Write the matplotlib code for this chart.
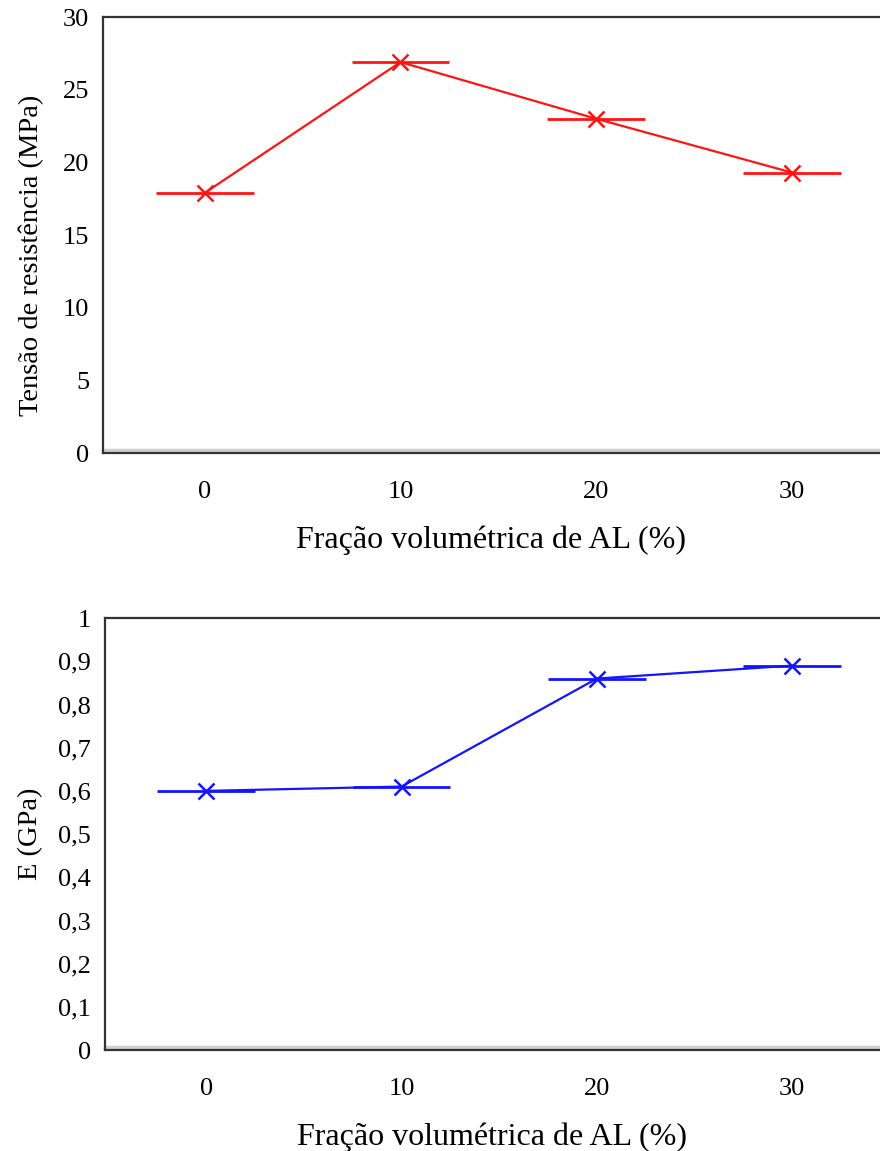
import matplotlib.pyplot as plt
import matplotlib.transforms as mtransforms

plt.rcParams['font.family'] = ['Liberation Serif', 'DejaVu Serif']

fracao = [0, 10, 20, 30]
tensao = [17.9, 26.9, 23.0, 19.3]
modulo = [0.60, 0.61, 0.86, 0.89]
xerr = 2.5

xlabel = 'Fração volumétrica de AL (%)'

fig = plt.figure(figsize=(8.8, 11.51), dpi=100)
ax1 = fig.add_axes([0.117, 0.6064, 0.883, 0.3788])
ax2 = fig.add_axes([0.119, 0.0877, 0.881, 0.3753])


def style(ax):
    ax.spines['right'].set_visible(False)
    for s in ['left', 'top', 'bottom']:
        ax.spines[s].set_linewidth(1.6)
        ax.spines[s].set_color('#333333')
    ax.tick_params(length=0, labelsize=19)
    ax.tick_params(axis='x', pad=20)
    ax.tick_params(axis='y', pad=10)
    ax.set_xlim(-5.2, 34.5)
    ax.set_xticks(fracao)
    ax.set_xlabel(xlabel, fontsize=23, labelpad=16)
    # faint grey shadow just above the bottom spine
    tr = mtransforms.offset_copy(ax.get_xaxis_transform(), fig=fig, x=0, y=2.5, units='points')
    ax.plot([0, 1], [0, 0], transform=mtransforms.blended_transform_factory(ax.transAxes, tr),
            color='#d0d0d0', lw=2.5, clip_on=False, zorder=1)


ax1.errorbar(fracao, tensao, xerr=xerr, color='#ff1414', lw=1.6,
             marker='x', ms=11, mew=1.8, elinewidth=2, capsize=0, zorder=3)
style(ax1)
ax1.set_ylim(0, 30)
ax1.set_yticks(range(0, 31, 5))
ax1.set_ylabel('Tensão de resistência (MPa)', fontsize=20.5)
ax1.yaxis.set_label_coords(-0.076, 0.454)

ax2.errorbar(fracao, modulo, xerr=xerr, color='#1414ff', lw=1.6,
             marker='x', ms=11, mew=1.8, elinewidth=2, capsize=0, zorder=3)
style(ax2)
ax2.set_ylim(0, 1)
yt = [i / 10 for i in range(11)]
ax2.set_yticks(yt)
ax2.set_yticklabels(['0' if v == 0 else ('1' if v == 1 else f'{v:.1f}'.replace('.', ',')) for v in yt])
ax2.set_ylabel('E (GPa)', fontsize=20.5)
ax2.yaxis.set_label_coords(-0.079, 0.5)

fig.savefig('out.png', dpi=100)
